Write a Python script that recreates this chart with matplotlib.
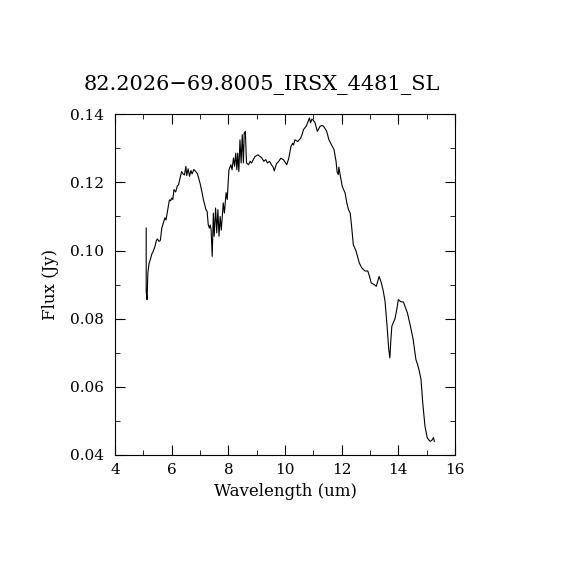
import numpy as np
import matplotlib.pyplot as plt
from matplotlib.ticker import MultipleLocator

plt.rcParams.update({"font.family": ["DejaVu Serif"], "font.size": 11,
"xtick.direction": "in", "ytick.direction": "in", "xtick.top": True, "ytick.right": True,
"xtick.major.size": 7, "ytick.major.size": 7, "xtick.minor.size": 3.5, "ytick.minor.size": 3.5,
"axes.linewidth": 0.8})

# spectrum: wavelength (um), flux (Jy)
wave = [5.10, 5.10, 5.13, 5.16, 5.20, 5.25, 5.30, 5.35, 5.41, 5.46, 5.50, 5.55, 5.60, 5.65,
        5.70, 5.76, 5.80, 5.85, 5.92, 5.96, 6.00, 6.04, 6.08, 6.14, 6.20, 6.24, 6.30, 6.35,
        6.40, 6.45, 6.50, 6.53, 6.58, 6.63, 6.68, 6.72, 6.78, 6.85, 6.91, 7.00, 7.06, 7.12,
        7.21, 7.25, 7.29, 7.33, 7.36, 7.39, 7.43, 7.47, 7.50, 7.55, 7.59, 7.63, 7.67, 7.71,
        7.75, 7.82, 7.86, 7.92, 7.96, 8.02, 8.09, 8.13, 8.18, 8.22, 8.26, 8.30, 8.33, 8.37,
        8.41, 8.45, 8.49, 8.53, 8.56, 8.60, 8.64, 8.71, 8.77, 8.82, 8.88, 8.94, 9.04, 9.12,
        9.18, 9.25, 9.32, 9.38, 9.45, 9.52, 9.58, 9.62, 9.70, 9.78, 9.85, 9.95, 10.06, 10.13,
        10.21, 10.27, 10.30, 10.35, 10.45, 10.55, 10.60, 10.65, 10.75, 10.86, 10.90, 10.95,
        11.00, 11.06, 11.14, 11.24, 11.30, 11.36, 11.47, 11.55, 11.63, 11.73, 11.80, 11.84,
        11.88, 11.90, 11.95, 12.02, 12.12, 12.18, 12.24, 12.30, 12.35, 12.41, 12.50, 12.62,
        12.70, 12.82, 12.92, 12.98, 13.04, 13.15, 13.22, 13.32, 13.40, 13.47, 13.53, 13.60,
        13.66, 13.70, 13.73, 13.77, 13.88, 13.95, 14.00, 14.08, 14.18, 14.26, 14.32, 14.42,
        14.52, 14.62, 14.68, 14.74, 14.80, 14.86, 14.94, 15.02, 15.12, 15.18, 15.24, 15.27]
flux = [0.1066, 0.0880, 0.0856, 0.0935, 0.0962, 0.0975, 0.0990, 0.0998, 0.1012, 0.1030,
        0.1034, 0.1027, 0.1030, 0.1066, 0.1080, 0.1096, 0.1090, 0.1115, 0.1149, 0.1146,
        0.1154, 0.1150, 0.1179, 0.1172, 0.1190, 0.1193, 0.1215, 0.1232, 0.1225, 0.1222,
        0.1247, 0.1220, 0.1240, 0.1218, 0.1235, 0.1225, 0.1238, 0.1232, 0.1225, 0.1198,
        0.1175, 0.1149, 0.1120, 0.1115, 0.1076, 0.1066, 0.1075, 0.1062, 0.0983, 0.1110,
        0.1042, 0.1125, 0.1052, 0.1120, 0.1042, 0.1100, 0.1060, 0.1140, 0.1110, 0.1170,
        0.1150, 0.1237, 0.1252, 0.1237, 0.1272, 0.1247, 0.1286, 0.1237, 0.1286, 0.1232,
        0.1325, 0.1257, 0.1340, 0.1257, 0.1345, 0.1350, 0.1257, 0.1252, 0.1262, 0.1257,
        0.1267, 0.1276, 0.1281, 0.1276, 0.1272, 0.1262, 0.1267, 0.1257, 0.1262, 0.1252,
        0.1245, 0.1234, 0.1255, 0.1262, 0.1271, 0.1266, 0.1252, 0.1270, 0.1306, 0.1315,
        0.1310, 0.1325, 0.1320, 0.1330, 0.1340, 0.1355, 0.1365, 0.1389, 0.1375, 0.1386,
        0.1382, 0.1375, 0.1350, 0.1365, 0.1367, 0.1365, 0.1350, 0.1325, 0.1312, 0.1296,
        0.1262, 0.1230, 0.1223, 0.1245, 0.1220, 0.1188, 0.1169, 0.1140, 0.1120, 0.1110,
        0.1071, 0.1017, 0.1000, 0.0964, 0.0950, 0.0940, 0.0940, 0.0925, 0.0905, 0.0900,
        0.0895, 0.0924, 0.0905, 0.0880, 0.0851, 0.0780, 0.0710, 0.0685, 0.0730, 0.0778,
        0.0800, 0.0830, 0.0856, 0.0850, 0.0849, 0.0830, 0.0817, 0.0780, 0.0740, 0.0680,
        0.0665, 0.0646, 0.0621, 0.0553, 0.0484, 0.0450, 0.0440, 0.0443, 0.0451, 0.0440]

fig = plt.figure(figsize=(5.7, 5.7), dpi=100)
ax = fig.add_axes([0.2018, 0.2018, 0.5965, 0.5977])
ax.plot(wave, flux, color="black", lw=0.8)
ax.set_xlim(4, 16); ax.set_ylim(0.04, 0.14)
ax.xaxis.set_major_locator(MultipleLocator(2)); ax.xaxis.set_minor_locator(MultipleLocator(1))
ax.yaxis.set_major_locator(MultipleLocator(0.02)); ax.yaxis.set_minor_locator(MultipleLocator(0.01))
ax.yaxis.set_major_formatter(lambda v, p: f"{v:.2f}")
ax.tick_params(which="both", top=True, right=True, labelsize=11)
ax.tick_params(axis="x", pad=6); ax.tick_params(axis="y", pad=8)
ax.set_xlabel("Wavelength (um)", fontsize=12, labelpad=4)
ax.set_ylabel("Flux (Jy)", fontsize=12, labelpad=8)
fig.text(0.459, 0.842, "82.2026\u221269.8005_IRSX_4481_SL", ha="center", va="baseline", fontsize=15)
fig.savefig("out.png", dpi=100)
